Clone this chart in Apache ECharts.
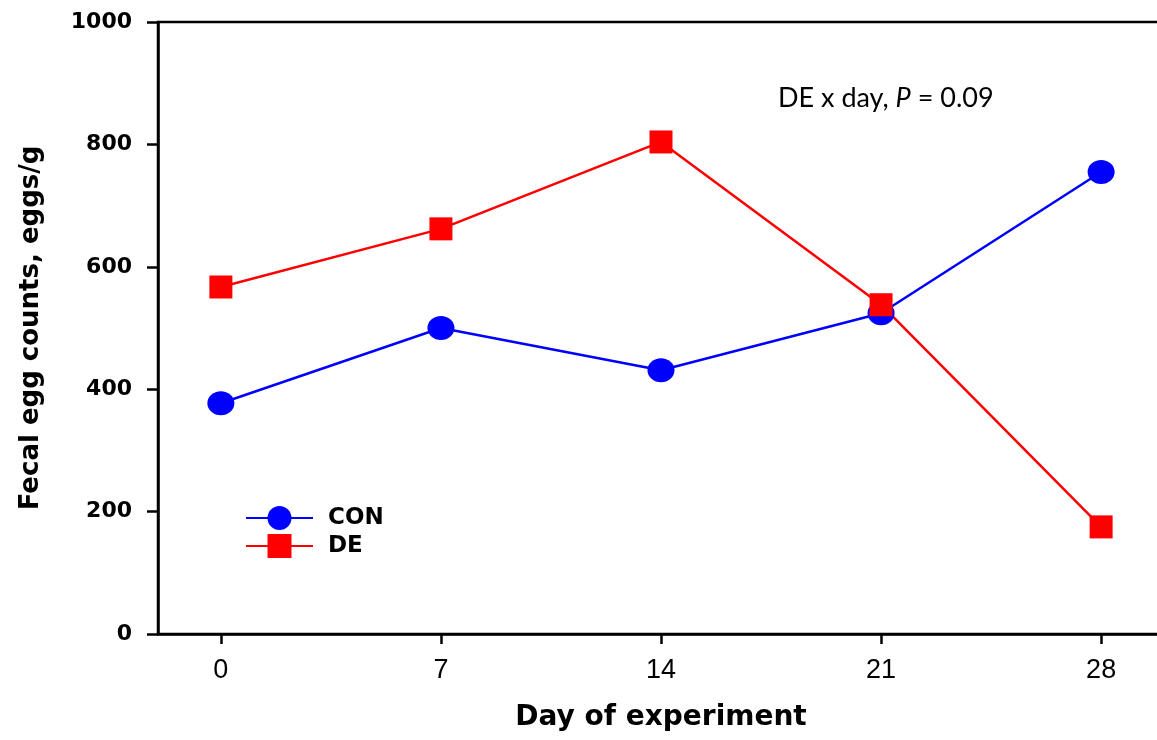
<!DOCTYPE html>
<html><head><meta charset="utf-8">
<script src="https://cdn.jsdelivr.net/npm/echarts@6/dist/echarts.min.js"></script>
<style>html,body{margin:0;padding:0;background:#fff}#c{width:1157px;height:740px}</style>
</head><body><div id="c"></div>
<script>
const days = [0, 7, 14, 21, 28];
const conValues = [377, 500, 431, 524, 755];
const deValues = [567, 662, 804, 538, 175];
const yTicks = [0, 200, 400, 600, 800, 1000];
const seriesNames = ['CON', 'DE'];

const chart = echarts.init(document.getElementById('c'));
const bold = 'DejaVu Sans, Liberation Sans, sans-serif';
const reg = 'Liberation Sans, Arial, sans-serif';
chart.setOption({
  animation: false,
  backgroundColor: '#fff',
  grid: { left: 158, top: 22, right: -7, bottom: 106, outerBoundsMode: 'none', containLabel: false,
          show: true, borderColor: '#000', borderWidth: 2.5 },
  xAxis: {
    type: 'value', min: -2, max: 30,
    name: 'Day of experiment', nameLocation: 'middle', nameGap: 70,
    nameTextStyle: { fontFamily: bold, fontWeight: 'bold', fontSize: 28, color: '#000' },
    axisLine: { onZero: false, lineStyle: { color: '#000', width: 2.5 } },
    axisTick: { show: true, length: 10, lineStyle: { color: '#000', width: 2.5 }, customValues: days },
    axisLabel: { fontFamily: reg, fontSize: 27, color: '#000', margin: 23, customValues: days },
    splitLine: { show: false }
  },
  yAxis: {
    type: 'value', min: 0, max: 1000, interval: 200,
    name: 'Fecal egg counts, eggs/g', nameLocation: 'middle', nameGap: 114,
    nameTextStyle: { fontFamily: bold, fontWeight: 'bold', fontSize: 26, color: '#000' },
    axisLine: { show: true, onZero: false, lineStyle: { color: '#000', width: 2.5 } },
    axisTick: { show: true, length: 11, lineStyle: { color: '#000', width: 2.5 }, customValues: yTicks },
    axisLabel: { fontFamily: bold, fontWeight: 'bold', fontSize: 22, color: '#000', margin: 26,
                 customValues: yTicks, formatter: v => String(v) },
    splitLine: { show: false }
  },
  legend: {
    left: 245, top: 506, padding: 0, orient: 'vertical', itemWidth: 67, itemHeight: 30, itemGap: 4,
    textStyle: { fontFamily: bold, fontWeight: 'bold', fontSize: 23, color: '#000', padding: [0, 0, 0, 10] },
    data: seriesNames
  },
  graphic: [{
    type: 'text', left: 778, top: 85,
    style: {
      rich: {
        n: { fontFamily: 'Lato, Open Sans, sans-serif', fontSize: 27, fill: '#000' },
        i: { fontFamily: 'Lato, Open Sans, sans-serif', fontSize: 27, fontStyle: 'italic', fill: '#000' }
      },
      text: '{n|DE x day, }{i|P}{n| = 0.09}'
    }
  }],
  series: [
    { name: seriesNames[0], type: 'line', data: days.map((d, i) => [d, conValues[i]]),
      symbol: 'circle', symbolSize: [27, 24], color: '#0000ff',
      lineStyle: { color: '#0000ff', width: 2.5 }, itemStyle: { color: '#0000ff' } },
    { name: seriesNames[1], type: 'line', data: days.map((d, i) => [d, deValues[i]]),
      symbol: 'rect', symbolSize: 23, color: '#ff0000',
      lineStyle: { color: '#ff0000', width: 2.5 }, itemStyle: { color: '#ff0000' } }
  ]
});
</script></body></html>
